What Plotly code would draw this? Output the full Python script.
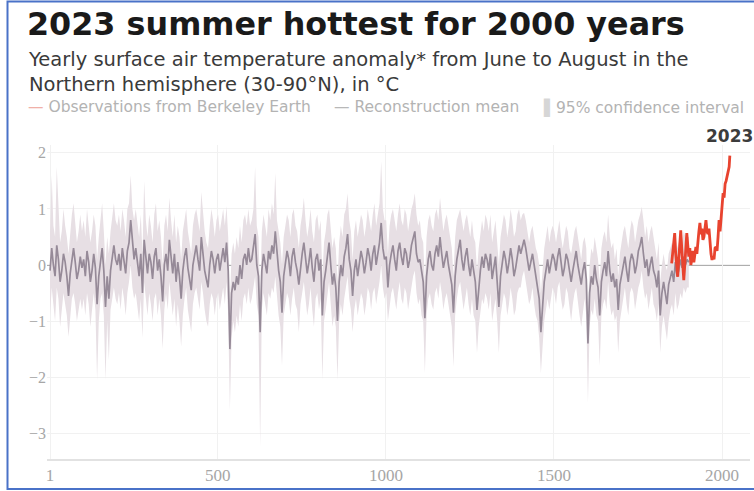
import plotly.graph_objects as go

# ---------------- data ----------------
recon_years = list(range(1, 1902, 5))

recon_mean = [
    -0.1, 0.3, 0.0, -0.2, 0.35, 0.1, -0.3, -0.1, 0.2, 0.05, -0.2, -0.55, -0.15, 0.1, 0.3, 0.05, -0.25, -0.1, 0.15, -0.05,
    0.1, -0.2, 0.25, 0.05, -0.3, -0.1, 0.2, -0.05, -0.7, -0.2, 0.1, 0.3, -0.1, -0.75, -0.2, -0.6, -0.1, 0.15, 0.35, 0.1,
    0.0, 0.2, -0.1, 0.3, 0.1, -0.15, 0.25, 0.4, 0.8, 0.35, 0.1, 0.3, 0.0, -0.2, 0.2, -0.5, 0.45, 0.1, -0.15, 0.2,
    0.05, -0.25, 0.15, 0.3, -0.1, 0.1, -0.2, -0.65, 0.0, 0.2, -0.1, 0.45, 0.1, -0.15, 0.2, -0.3, 0.05, -0.2, -0.6, -0.1,
    0.15, 0.3, -0.05, -0.3, -0.45, 0.0, 0.2, 0.35, 0.1, -0.1, 0.5, 0.2, -0.1, -0.25, -0.4, 0.0, 0.25, 0.1, -0.15, 0.1,
    0.2, -0.1, 0.1, 0.3, 0.05, 0.4, -0.1, -1.5, -0.5, -0.3, -0.45, -0.2, -0.35, 0.0, -0.25, 0.1, 0.2, 0.0, 0.3, 0.05,
    0.1, 0.3, 0.55, 0.0, -0.2, -1.2, -0.1, 0.2, 0.0, -0.15, 0.25, 0.1, 0.35, 0.2, 0.6, 0.15, -0.1, -0.3, -0.85, -0.2,
    0.0, 0.25, 0.1, -0.2, 0.15, 0.3, 0.05, -0.1, -0.35, 0.0, 0.2, 0.4, 0.1, -0.15, 0.05, 0.3, -0.05, -0.3, 0.1, 0.2,
    -0.1, 0.1, -0.9, -0.3, -0.1, 0.2, 0.4, 0.0, -0.35, -0.15, -0.4, -1.0, -0.3, 0.0, -0.2, 0.15, 0.3, 0.55, 0.1, -0.1,
    -0.55, -0.1, 0.1, -0.2, 0.0, 0.25, 0.1, -0.15, 0.05, 0.3, 0.15, -0.1, 0.2, 0.35, 0.0, 0.2, 0.4, 0.75, 0.3, 0.1,
    0.15, -0.4, 0.0, 0.2, 0.35, 0.1, -0.1, 0.25, 0.4, 0.15, 0.0, 0.3, 0.2, -0.05, 0.1, 0.35, 0.5, 0.6, 0.2, 0.05,
    0.1, -0.15, -0.3, -0.95, -0.2, 0.1, 0.25, 0.0, -0.1, 0.2, 0.35, 0.15, 0.5, 0.2, -0.05, 0.1, 0.25, 0.0, -0.2, -0.35,
    -0.85, -0.2, 0.1, 0.25, 0.45, 0.1, -0.1, 0.15, 0.3, 0.0, -0.2, 0.1, -0.15, -0.3, -0.8, -0.4, -0.1, 0.15, -0.05, 0.2,
    0.1, -0.1, 0.2, -0.25, -0.05, 0.15, -0.3, -0.75, -0.2, 0.0, 0.25, 0.1, -0.15, 0.05, 0.3, 0.1, -0.2, -0.05, 0.2, 0.35,
    0.2, 0.35, 0.45, 0.3, 0.1, -0.1, 0.05, 0.2, 0.0, -0.2, -0.35, -0.6, -1.2, -0.7, -0.3, -0.1, 0.1, -0.15, 0.05, 0.2,
    0.1, -0.1, 0.15, 0.3, 0.05, -0.2, -0.05, 0.2, 0.1, -0.15, -0.3, -0.1, 0.1, 0.25, 0.0, -0.2, -0.35, -0.1, 0.05, -0.25,
    -1.4, -0.5, -0.2, -0.35, 0.0, -0.25, -0.4, -0.9, -0.3, -0.1, 0.05, -0.2, 0.25, -0.1, -0.3, -0.15, -0.4, -0.25, -0.8, -0.35,
    -0.2, 0.0, 0.15, -0.1, -0.3, 0.05, 0.2, 0.1, -0.15, 0.0, 0.25, 0.35, 0.5, 0.2, -0.05, 0.1, -0.2, 0.0, 0.15, -0.1,
    -0.2, -0.4, -0.1, -0.9, -0.5, -0.3, -0.55, -0.7, -0.35, -0.2, -0.1, -0.3, 0.05, -0.2, -0.1, 0.1, -0.05, 0.15, 0.0, 0.1,
    0.05,
]

recon_upper = [
    0.6, 1.6, 0.7, 0.5, 1.75, 0.9, 0.4, 0.6, 1.0, 0.7, 0.5, 0.2, 0.6, 0.9, 1.1, 0.7, 0.4, 0.6, 0.9, 0.6,
    0.8, 0.5, 1.0, 0.7, 0.4, 0.6, 0.9, 0.7, 0.1, 0.5, 0.8, 1.1, 0.6, 0.0, 0.5, 0.2, 0.6, 0.9, 1.1, 0.8,
    0.7, 0.9, 0.6, 1.0, 0.8, 0.5, 1.0, 1.1, 1.6, 1.0, 0.8, 1.0, 0.7, 0.5, 0.9, 0.2, 1.5, 0.8, 0.5, 0.9,
    0.7, 0.4, 0.9, 1.1, 0.6, 0.8, 0.5, 0.0, 0.7, 0.9, 0.6, 1.2, 0.8, 0.5, 0.9, 0.4, 0.7, 0.5, 0.1, 0.6,
    0.8, 1.0, 0.6, 0.4, 0.2, 0.7, 0.9, 1.0, 0.8, 0.6, 1.3, 0.9, 0.6, 0.4, 0.3, 0.7, 1.0, 0.8, 0.5, 0.8,
    0.9, 0.6, 0.8, 1.0, 0.7, 1.05, 0.5, -0.7, 0.2, 0.4, 0.2, 0.5, 0.3, 0.7, 0.4, 0.8, 0.9, 0.7, 1.0, 0.7,
    0.8, 1.0, 1.75, 0.7, 0.5, -0.5, 0.6, 0.9, 0.7, 0.5, 1.0, 0.8, 1.1, 0.9, 1.64, 0.8, 0.6, 0.4, 0.0, 0.5,
    0.7, 0.9, 0.8, 0.5, 0.9, 1.0, 0.7, 0.6, 0.3, 0.7, 0.9, 1.2, 0.8, 0.5, 0.7, 1.0, 0.6, 0.4, 0.8, 0.9,
    0.6, 0.8, -0.2, 0.4, 0.6, 0.9, 1.0, 0.7, 0.3, 0.5, 0.3, -0.3, 0.4, 0.7, 0.5, 0.9, 1.0, 1.28, 0.8, 0.6,
    0.1, 0.6, 0.8, 0.5, 0.7, 0.9, 0.8, 0.5, 0.7, 1.0, 0.8, 0.6, 0.9, 1.1, 0.7, 0.9, 1.1, 1.85, 1.0, 0.8,
    0.8, 0.2, 0.7, 0.9, 1.0, 0.8, 0.6, 0.9, 1.1, 0.8, 0.7, 1.0, 0.9, 0.6, 0.8, 1.0, 1.1, 1.28, 0.9, 0.7,
    0.8, 0.5, 0.4, -0.3, 0.5, 0.8, 0.9, 0.7, 0.6, 0.9, 1.0, 0.8, 1.2, 0.9, 0.6, 0.8, 0.9, 0.7, 0.5, 0.3,
    -0.2, 0.5, 0.8, 0.9, 1.0, 0.8, 0.6, 0.8, 0.9, 0.7, 0.5, 0.8, 0.5, 0.4, -0.1, 0.3, 0.6, 0.8, 0.6, 0.9,
    0.8, 0.6, 0.9, 0.4, 0.6, 0.8, 0.4, 0.0, 0.5, 0.7, 0.9, 0.8, 0.5, 0.7, 1.0, 0.8, 0.5, 0.6, 0.9, 1.0,
    0.8, 0.9, 0.93, 0.8, 0.6, 0.4, 0.6, 0.7, 0.5, 0.3, 0.2, 0.0, -0.5, 0.0, 0.3, 0.5, 0.7, 0.4, 0.6, 0.7,
    0.6, 0.4, 0.6, 0.8, 0.5, 0.3, 0.5, 0.7, 0.6, 0.3, 0.2, 0.4, 0.6, 0.7, 0.5, 0.3, 0.1, 0.4, 0.5, 0.3,
    -0.8, 0.0, 0.3, 0.2, 0.5, 0.3, 0.1, -0.3, 0.3, 0.5, 0.6, 0.4, 0.9, 0.5, 0.3, 0.4, 0.1, 0.3, -0.2, 0.2,
    0.4, 0.6, 0.7, 0.5, 0.3, 0.6, 0.8, 0.7, 0.4, 0.6, 0.8, 0.9, 1.04, 0.8, 0.5, 0.7, 0.4, 0.6, 0.7, 0.5,
    0.3, 0.1, 0.4, -0.3, 0.0, 0.2, 0.0, -0.1, 0.2, 0.3, 0.4, 0.2, 0.5, 0.3, 0.4, 0.5, 0.4, 0.6, 0.5, 0.5,
    0.5,
]

recon_lower = [
    -0.9, -0.4, -0.7, -1.0, -0.4, -0.6, -1.1, -0.8, -0.5, -0.7, -0.9, -1.28, -0.9, -0.6, -0.5, -0.7, -1.0, -0.8, -0.6, -0.8,
    -0.6, -0.9, -0.5, -0.7, -1.1, -0.8, -0.5, -0.8, -2.05, -1.0, -0.6, -0.5, -0.9, -2.05, -1.0, -1.7, -0.8, -0.6, -0.4, -0.6,
    -0.7, -0.5, -0.8, -0.4, -0.6, -0.9, -0.5, -0.3, 0.0, -0.4, -0.6, -0.5, -0.8, -1.0, -0.6, -1.3, -0.3, -0.6, -0.9, -0.5,
    -0.7, -1.0, -0.6, -0.5, -0.9, -0.6, -0.9, -1.5, -0.8, -0.5, -0.8, -0.3, -0.6, -0.9, -0.6, -1.1, -0.7, -1.0, -1.46, -0.9,
    -0.6, -0.4, -0.8, -1.0, -1.2, -0.7, -0.5, -0.4, -0.6, -0.8, -0.3, -0.5, -0.8, -1.0, -1.1, -0.7, -0.5, -0.6, -0.9, -0.6,
    -0.5, -0.8, -0.6, -0.4, -0.7, -0.3, -0.9, -2.6, -1.3, -1.0, -1.2, -0.9, -1.1, -0.7, -1.0, -0.6, -0.5, -0.7, -0.4, -0.7,
    -0.6, -0.4, -0.2, -0.7, -0.9, -3.25, -0.8, -0.5, -0.7, -0.9, -0.5, -0.6, -0.4, -0.5, -0.2, -0.6, -0.9, -1.1, -1.8, -0.9,
    -0.7, -0.5, -0.6, -0.9, -0.6, -0.4, -0.7, -0.8, -1.2, -0.7, -0.5, -0.3, -0.6, -0.9, -0.7, -0.4, -0.8, -1.1, -0.6, -0.5,
    -0.8, -0.6, -2.05, -1.0, -0.8, -0.5, -0.3, -0.7, -1.1, -0.9, -1.1, -2.05, -1.0, -0.7, -0.9, -0.6, -0.4, -0.2, -0.6, -0.8,
    -1.2, -0.8, -0.6, -0.9, -0.7, -0.5, -0.6, -0.9, -0.7, -0.4, -0.5, -0.8, -0.5, -0.4, -0.7, -0.5, -0.3, 0.0, -0.4, -0.6,
    -0.5, -1.0, -0.7, -0.5, -0.4, -0.6, -0.8, -0.5, -0.3, -0.6, -0.7, -0.4, -0.5, -0.8, -0.6, -0.4, -0.2, -0.1, -0.5, -0.7,
    -0.6, -0.9, -1.0, -1.93, -0.9, -0.6, -0.5, -0.7, -0.8, -0.5, -0.4, -0.6, -0.3, -0.5, -0.8, -0.6, -0.5, -0.7, -0.9, -1.1,
    -1.82, -0.9, -0.6, -0.4, -0.3, -0.6, -0.8, -0.6, -0.4, -0.7, -0.9, -0.6, -0.9, -1.0, -1.57, -1.1, -0.8, -0.6, -0.7, -0.5,
    -0.6, -0.8, -0.5, -1.0, -0.8, -0.6, -1.0, -1.57, -0.9, -0.7, -0.5, -0.6, -0.9, -0.7, -0.4, -0.6, -0.9, -0.8, -0.5, -0.4,
    -0.4, -0.2, -0.1, -0.3, -0.5, -0.7, -0.6, -0.4, -0.7, -0.9, -1.0, -1.3, -1.93, -1.4, -1.0, -0.8, -0.6, -0.8, -0.6, -0.4,
    -0.5, -0.7, -0.4, -0.3, -0.6, -0.8, -0.7, -0.4, -0.5, -0.8, -1.0, -0.7, -0.5, -0.4, -0.7, -0.9, -1.1, -0.8, -0.6, -0.9,
    -2.46, -1.1, -0.8, -0.9, -0.6, -0.9, -1.0, -1.8, -0.9, -0.7, -0.6, -0.8, -0.3, -0.7, -0.9, -0.8, -1.0, -0.9, -1.57, -1.0,
    -0.8, -0.6, -0.4, -0.7, -0.9, -0.5, -0.4, -0.5, -0.8, -0.6, -0.4, -0.3, -0.1, -0.4, -0.6, -0.5, -0.8, -0.6, -0.4, -0.7,
    -0.8, -1.0, -0.7, -1.57, -1.1, -0.9, -1.1, -1.34, -1.0, -0.8, -0.7, -0.9, -0.5, -0.8, -0.7, -0.5, -0.6, -0.4, -0.5, -0.4,
    -0.4,
]

obs_years = list(range(1850, 2022, 3)) + [2023]
obs_values = [
    0.03, 0.25, 0.45, 0.57, 0.2, 0.0, -0.21, 0.1, 0.35, 0.62,
    0.3, 0.05, -0.27, 0.0, 0.3, 0.57, 0.35, 0.15, 0.3, 0.0,
    0.1, 0.25, 0.05, 0.2, 0.32, 0.2, 0.45, 0.6, 0.75, 0.55,
    0.65, 0.45, 0.5, 0.7, 0.8, 0.6, 0.55, 0.65, 0.35, 0.2,
    0.09, 0.15, 0.1, 0.3, 0.32, 0.25, 0.5, 0.8, 0.6, 0.85,
    1.05, 1.28, 1.2, 1.45, 1.5, 1.6, 1.7, 1.75,
    1.95,
]

x_tick_vals = [1, 500, 1000, 1500, 2000]
x_tick_text = ["1", "500", "1000", "1500", "2000"]
y_tick_vals = [-3, -2, -1, 0, 1, 2]
y_tick_text = ["\u22123", "\u22122", "\u22121", "0", "1", "2"]

assert len(recon_years) == len(recon_mean) == len(recon_upper) == len(recon_lower)
assert len(obs_years) == len(obs_values)

# ---------------- layout geometry ----------------
W, H = 754, 491
L, R, T, B = 47, 4, 145, 32
PW, PH = W - L - R, H - T - B


def px(xp):
    return (xp - L) / PW


def py(yp):
    return (H - B - yp) / PH


SANS = "DejaVu Sans, Open Sans, sans-serif"
SERIF = "Liberation Serif, DejaVu Serif, serif"

fig = go.Figure()

fig.add_trace(go.Scatter(x=recon_years, y=recon_lower, mode="lines",
                         line=dict(width=0, color="rgba(0,0,0,0)"),
                         hoverinfo="skip", showlegend=False))
fig.add_trace(go.Scatter(x=recon_years, y=recon_upper, mode="lines",
                         line=dict(width=0, color="rgba(0,0,0,0)"),
                         fill="tonexty", fillcolor="#e7dfe4",
                         name="95% confidence interval", showlegend=False))
fig.add_trace(go.Scatter(x=recon_years, y=recon_mean, mode="lines",
                         line=dict(width=1.7, color="#968a98"),
                         name="Reconstruction mean", showlegend=False))
fig.add_trace(go.Scatter(x=obs_years, y=obs_values, mode="lines",
                         line=dict(width=2.8, color="#e8432f"),
                         name="Observations from Berkeley Earth", showlegend=False))

fig.update_xaxes(range=[-8, 2083], tickvals=x_tick_vals, ticktext=x_tick_text,
                 showgrid=True, gridcolor="#f1f1f1", gridwidth=1,
                 showline=True, linecolor="#e2e2e2", linewidth=1.5,
                 zeroline=False, ticks="",
                 tickfont=dict(family=SERIF, size=17, color="#a6a6a6"))
fig.update_yaxes(range=[-3.46, 2.14], tickvals=y_tick_vals, ticktext=y_tick_text,
                 showgrid=True, gridcolor="#f1f1f1", gridwidth=1,
                 zeroline=False, showline=False, ticks="",
                 tickfont=dict(family=SERIF, size=16, color="#a6a6a6"))

fig.add_shape(type="line", xref="x", yref="y", x0=-8, x1=2083, y0=0, y1=0,
              line=dict(color="#5a5a5a", width=1), layer="below")

# blue frame
fig.add_shape(type="rect", xref="paper", yref="paper",
              x0=px(7.5), x1=px(760), y0=py(1.5), y1=py(489),
              line=dict(color="#4a72c8", width=2), layer="above")

fig.add_annotation(xref="paper", yref="paper", x=px(25), y=py(24),
                   xanchor="left", yanchor="middle", showarrow=False,
                   text="<b>2023 summer hottest for 2000 years</b>",
                   font=dict(family=SANS, size=31.8, color="#1a1a1a"))
fig.add_annotation(xref="paper", yref="paper", x=px(26), y=py(72),
                   xanchor="left", yanchor="middle", showarrow=False, align="left",
                   text="Yearly surface air temperature anomaly* from June to August in the<br>Northern hemisphere (30-90\u00b0N), in \u00b0C",
                   font=dict(family=SANS, size=19.5, color="#3a3a3a"))

legend_items = [
    (26, "<span style='color:#f0b0a8'>\u2014</span> Observations from Berkeley Earth"),
    (332, "<span style='color:#b8b8b8'>\u2014</span> Reconstruction mean"),
    (541, "<span style='color:#d6d6d6'>\u258c</span>95% confidence interval"),
]
for lx, ltxt in legend_items:
    fig.add_annotation(xref="paper", yref="paper", x=px(lx), y=py(107),
                       xanchor="left", yanchor="middle", showarrow=False,
                       text=ltxt, font=dict(family=SANS, size=15.5, color="#b3b3b3"))

fig.add_annotation(xref="x", yref="y", x=obs_years[-1], y=obs_values[-1],
                   xanchor="center", yanchor="bottom", yshift=8, showarrow=False,
                   text="<b>2023</b>",
                   font=dict(family=SANS, size=17, color="#3c3c3c"))

fig.update_layout(width=W, height=H, margin=dict(l=L, r=R, t=T, b=B),
                  paper_bgcolor="white", plot_bgcolor="white",
                  showlegend=False)

fig.write_html("out.html", config={"displayModeBar": False},
               post_script="document.body.style.margin='0px';")
